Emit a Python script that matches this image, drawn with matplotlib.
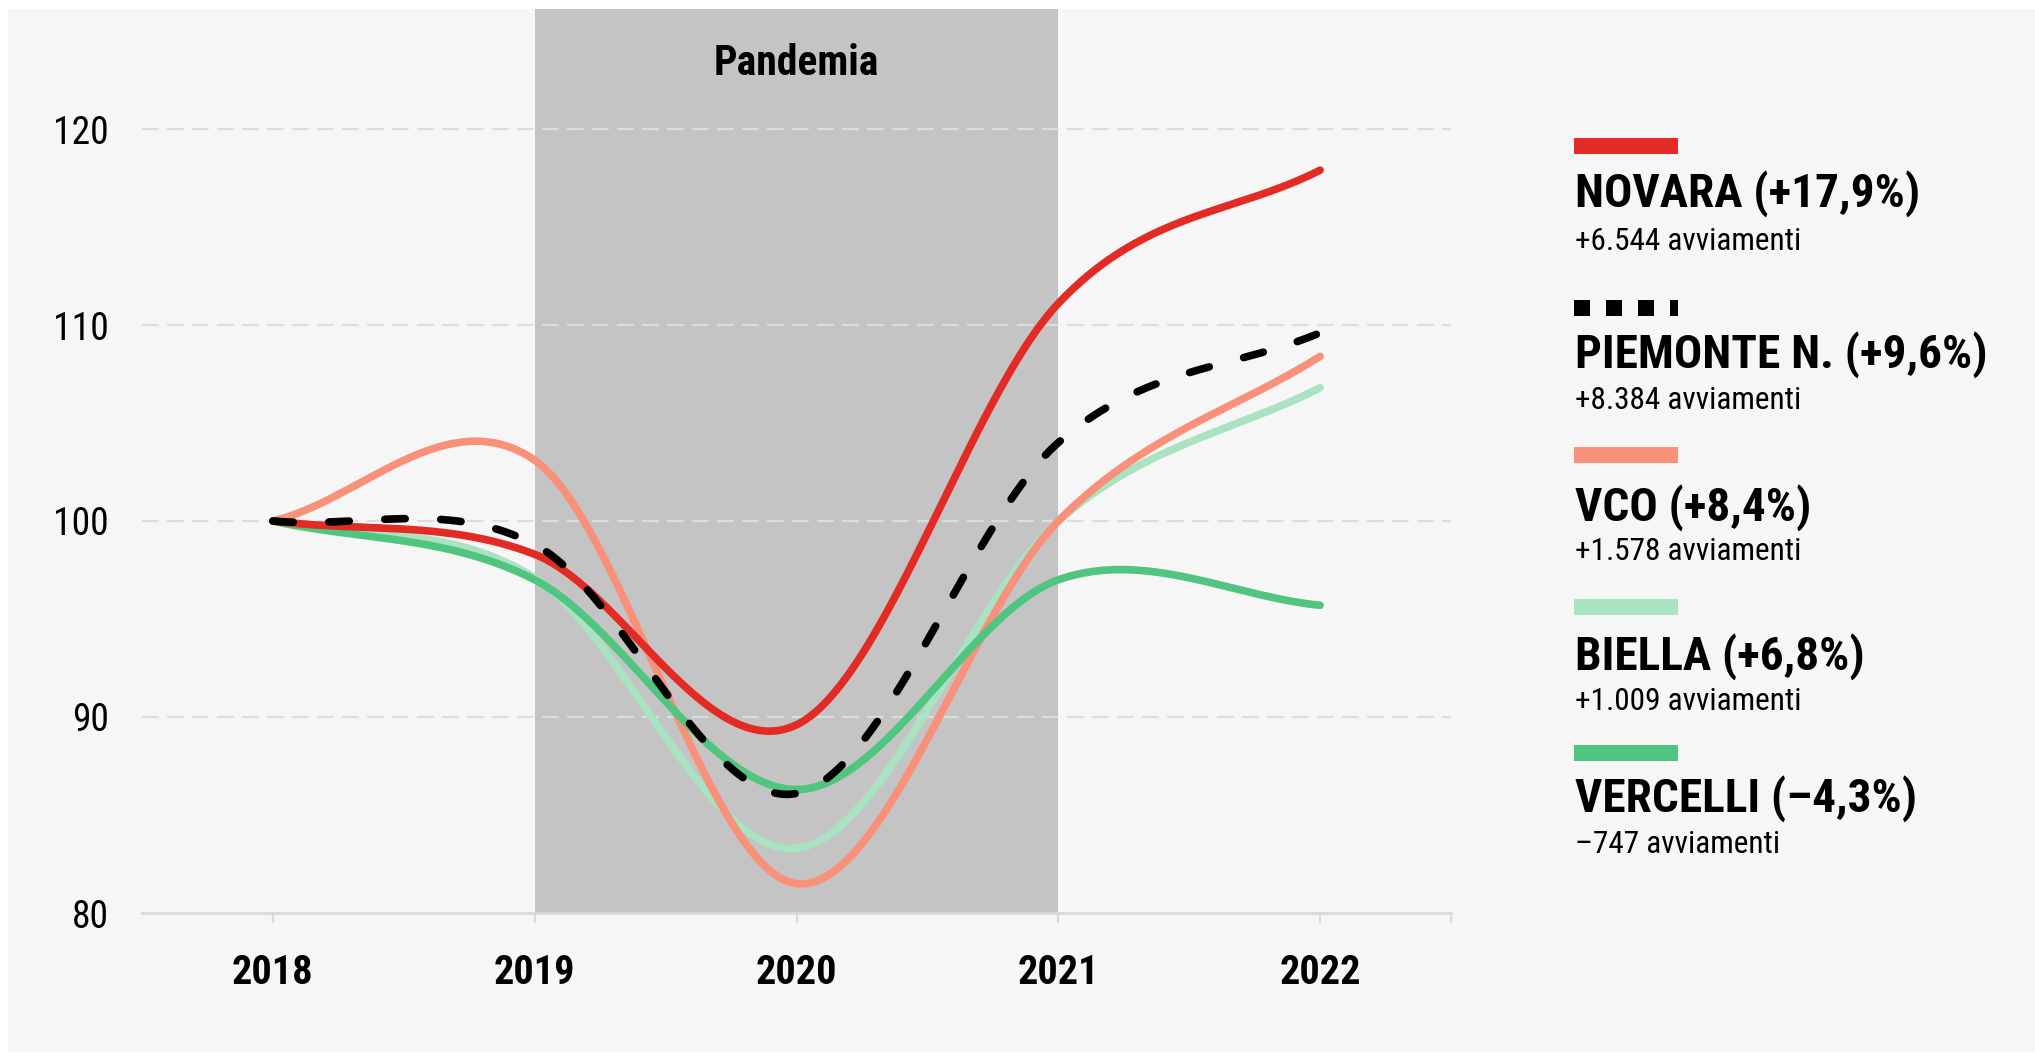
import os
import numpy as np
import matplotlib
matplotlib.use("Agg")
import matplotlib.pyplot as plt
from matplotlib.patches import Rectangle
from matplotlib.lines import Line2D
from matplotlib import font_manager as fm

# ---------------- data ----------------
years = [2018, 2019, 2020, 2021, 2022]
novara = [100.0, 98.3, 89.6, 111.1, 117.9]
piemonte = [100.0, 98.8, 86.1, 104.0, 109.6]
vco = [100.0, 103.1, 81.5, 100.0, 108.4]
biella = [100.0, 97.1, 83.3, 100.0, 106.8]
vercelli = [100.0, 97.0, 86.3, 97.0, 95.7]

series_names = ["NOVARA (+17,9%)", "PIEMONTE N. (+9,6%)", "VCO (+8,4%)",
                "BIELLA (+6,8%)", "VERCELLI (\u20134,3%)"]
series_notes = ["+6.544 avviamenti", "+8.384 avviamenti", "+1.578 avviamenti",
                "+1.009 avviamenti", "\u2013747 avviamenti"]
yticks = [80, 90, 100, 110, 120]
pandemic_span = (2019, 2021)
pandemic_label = "Pandemia"

# ---------------- fonts: look for a condensed face ----------------
files = {os.path.basename(f.fname).lower(): f.fname for f in fm.fontManager.ttflist}
prefs_reg = ["robotocondensed-regular.ttf", "liberationsansnarrow-regular.ttf",
             "notosans-condensed.ttf", "dejavusanscondensed.ttf"]
prefs_bold = ["robotocondensed-bold.ttf", "liberationsansnarrow-bold.ttf",
              "notosans-condensedbold.ttf", "dejavusanscondensed-bold.ttf"]


def pick(prefs, weight):
    for p in prefs:
        if p in files:
            return fm.FontProperties(fname=files[p])
    return fm.FontProperties(family="DejaVu Sans", weight=weight)


FP_REG = pick(prefs_reg, "normal")
FP_BOLD = pick(prefs_bold, "bold")


def fp(prop, size):
    p = prop.copy()
    p.set_size(size)
    return p


C_NOV = "#e22b24"
C_PIE = "#000000"
C_VCO = "#f9907a"
C_BIE = "#a9e3c1"
C_VER = "#50c57f"

W, H = 2035, 1052
fig = plt.figure(figsize=(W / 100, H / 100), dpi=100, facecolor="white")

fig.patches.append(Rectangle((8 / W, 0), 1 - 8 / W, (H - 9) / H,
                             transform=fig.transFigure, facecolor="#f6f6f6",
                             edgecolor="none", zorder=-10))

ax_l, ax_r, ax_b, ax_t = 142, 1451, 913, 9
ax = fig.add_axes([ax_l / W, (H - ax_b) / H, (ax_r - ax_l) / W, (ax_b - ax_t) / H])
ax.set_facecolor("none")
ax.set_xlim(2017.5, 2022.5)
ax.set_ylim(80, 80 + (ax_b - ax_t) / 19.6)


def catmull(xs, ys, n=200):
    xs = np.asarray(xs, float)
    ys = np.asarray(ys, float)
    m = np.gradient(ys, xs)
    X, Y = [], []
    for i in range(len(xs) - 1):
        t = np.linspace(0, 1, n, endpoint=(i == len(xs) - 2))
        h = xs[i + 1] - xs[i]
        h00 = 2 * t**3 - 3 * t**2 + 1
        h10 = t**3 - 2 * t**2 + t
        h01 = -2 * t**3 + 3 * t**2
        h11 = t**3 - t**2
        X.append(xs[i] + t * h)
        Y.append(h00 * ys[i] + h10 * h * m[i] + h01 * ys[i + 1] + h11 * h * m[i + 1])
    return np.concatenate(X), np.concatenate(Y)


ax.axvspan(pandemic_span[0], pandemic_span[1], color="#c4c4c4", zorder=0, lw=0)
ax.text(sum(pandemic_span) / 2, 0.927, pandemic_label, transform=ax.get_xaxis_transform(),
        ha="center", va="baseline", fontproperties=fp(FP_BOLD, 30), color="#000000", zorder=5)

for v in yticks[1:]:
    ax.axhline(v, color="#dddddd", lw=1.5, dashes=(8, 4), zorder=1)

lw = 5.5
for ys, c, z in [(biella, C_BIE, 3), (vco, C_VCO, 4), (vercelli, C_VER, 5), (novara, C_NOV, 6)]:
    x, y = catmull(years, ys)
    ax.plot(x, y, color=c, lw=lw, solid_capstyle="round", zorder=z)
x, y = catmull(years, piemonte)
ax.plot(x, y, color=C_PIE, lw=lw, dashes=(2.67, 4.66), dash_capstyle="round", zorder=7)

for s in ["left", "right", "top"]:
    ax.spines[s].set_visible(False)
ax.spines["bottom"].set_color("#d9d9d9")
ax.spines["bottom"].set_linewidth(2)
ax.spines["bottom"].set_zorder(2)

ax.set_xticks(years)
ax.set_xticklabels([str(y) for y in years])
ax.set_xticks([2022.5], minor=True)
ax.tick_params(axis="x", which="both", length=7.2, width=1.5, color="#d9d9d9", pad=22)
for lab in ax.get_xticklabels():
    lab.set_fontproperties(fp(FP_BOLD, 29))
ax.set_yticks(yticks)
ax.set_yticklabels([str(v) for v in yticks])
ax.tick_params(axis="y", length=0, pad=24, labelcolor="#000000")
for lab in ax.get_yticklabels():
    lab.set_fontproperties(fp(FP_REG, 27))

sw_x0, sw_x1, sw_h = 1574, 1678, 16
sw_cy = [146, 308, 455, 607, 753]
title_bl = [207, 368, 521, 670, 812]
note_bl = [250, 409, 560, 710, 853]
colors = [C_NOV, C_PIE, C_VCO, C_BIE, C_VER]
for i in range(5):
    if i == 1:
        fig.lines.append(Line2D([sw_x0 / W, sw_x1 / W], [(H - sw_cy[i]) / H] * 2,
                                transform=fig.transFigure, color=C_PIE,
                                lw=sw_h * 0.72, dashes=(1, 1), dash_capstyle="butt"))
    else:
        fig.patches.append(Rectangle((sw_x0 / W, (H - sw_cy[i] - sw_h / 2) / H),
                                     (sw_x1 - sw_x0) / W, sw_h / H,
                                     transform=fig.transFigure, facecolor=colors[i],
                                     edgecolor="none"))
    fig.text(1575 / W, (H - title_bl[i]) / H, series_names[i], fontproperties=fp(FP_BOLD, 34),
             va="baseline", ha="left", color="#000000")
    fig.text(1575 / W, (H - note_bl[i]) / H, series_notes[i], fontproperties=fp(FP_REG, 22.5),
             va="baseline", ha="left", color="#000000")

fig.savefig("out.png", dpi=100, facecolor="white")
